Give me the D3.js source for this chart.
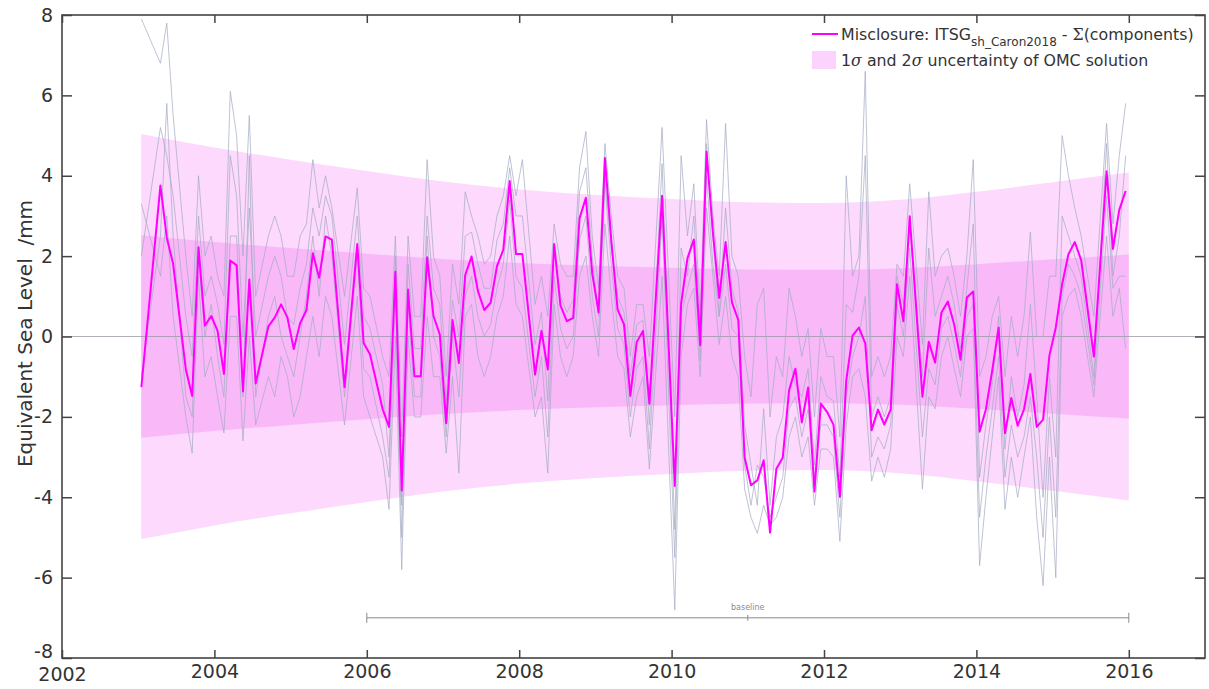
<!DOCTYPE html>
<html>
<head>
<meta charset="utf-8">
<script src="https://cdn.jsdelivr.net/npm/d3@7"></script>
<style>
  html, body { margin: 0; padding: 0; background: #fff; }
  svg { display: block; font-family: "DejaVu Sans", sans-serif; }
</style>
</head>
<body>
<svg id="chart" width="1209" height="689"></svg>
<script>
// ---------------- DATA ----------------
// month index counted from January 2003 (0 = Jan 2003)
const months = [
  0,3,4,5,7,8,9,10,11,12,
  13,14,15,16,17,18,20,21,22,23,
  24,25,26,27,28,29,30,32,34,35,
  36,38,39,40,41,42,43,44,45,46,
  47,48,49,50,51,52,53,54,55,56,
  57,58,59,60,62,63,64,65,66,67,
  68,69,70,71,72,73,74,75,76,77,
  78,79,80,82,84,85,86,87,88,89,
  90,91,92,93,94,95,96,97,98,99,
  100,101,102,103,104,105,106,107,108,109,
  110,111,112,113,114,115,116,117,118,119,
  120,121,123,124,125,126,127,128,129,130,
  131,132,133,134,135,136,137,138,139,140,
  141,142,143,144,145,146,147,148,150,152,
  153,154,155
];
// Misclosure: ITSG_sh_Caron2018 - Σ(components)  [mm]
const misclosure = [
  -1.26,3.76,2.46,1.81,-0.82,-1.48,2.22,0.27,0.51,0.14,
  -0.93,1.89,1.77,-1.37,1.42,-1.17,0.25,0.47,0.80,0.47,
  -0.31,0.33,0.66,2.07,1.46,2.49,2.41,-1.26,2.30,-0.16,
  -0.44,-1.81,-2.25,1.61,-3.83,1.17,-0.99,-0.99,1.97,0.51,
  0.05,-2.16,0.41,-0.66,1.53,1.99,1.13,0.66,0.84,1.75,
  2.16,3.87,2.05,2.05,-0.95,0.14,-0.82,2.30,0.77,0.38,
  0.46,2.94,3.45,1.57,0.60,4.44,2.40,0.67,0.30,-1.48,
  -0.14,0.14,-1.67,3.50,-3.72,0.82,1.95,2.41,-0.22,4.60,
  2.60,0.96,2.35,0.85,0.41,-3.01,-3.70,-3.58,-3.08,-4.88,
  -3.29,-3.02,-1.34,-0.80,-2.14,-1.27,-3.86,-1.67,-1.88,-2.20,
  -3.99,-1.10,0.02,0.22,-0.17,-2.33,-1.82,-2.19,-1.82,1.30,
  0.38,2.99,-1.50,-0.13,-0.65,0.60,0.87,0.30,-0.58,0.97,
  1.12,-2.37,-1.81,-0.84,0.22,-2.41,-1.53,-2.22,-1.81,-0.93,
  -2.25,-2.07,-0.47,0.22,1.30,2.05,2.35,1.90,-0.50,4.11,
  2.18,3.15,3.62
];
// individual ensemble members (grey lines)
const memberA = [
  7.9,6.8,7.8,5.5,2.0,0.5,4.0,2.0,2.5,1.5,
  1.0,6.1,5.0,2.0,5.5,1.0,2.5,3.0,2.5,1.5,
  1.5,2.5,2.8,4.4,3.2,4.0,3.2,1.0,3.7,1.2,
  1.0,-0.5,-1.0,2.5,-2.5,2.5,0.5,0.5,4.4,2.0,
  1.5,-1.0,1.8,0.8,3.6,3.0,2.5,1.8,2.0,3.0,
  3.5,4.5,3.5,4.4,0.8,1.5,0.5,2.8,1.8,1.5,
  1.5,4.2,5.1,2.5,1.2,4.8,3.0,1.5,1.2,-0.5,
  0.8,0.8,-0.5,5.2,-2.0,4.5,2.5,3.8,0.5,5.4,
  3.0,1.5,5.3,2.0,1.5,-0.5,-1.5,0.8,1.2,-2.0,
  -0.5,-1.0,1.2,0.5,-0.5,0.2,-2.0,0.2,-0.5,-0.5,
  -2.5,4.0,1.5,2.0,6.6,-1.0,-0.5,-1.0,-0.5,1.8,
  1.5,3.8,-0.2,3.6,1.5,2.0,2.2,1.5,0.5,2.0,
  4.4,-1.0,-0.5,0.5,1.0,-1.0,0.5,-0.5,0.5,2.6,
  0.0,0.0,1.5,1.5,5.0,4.0,3.2,2.5,0.5,5.3,
  2.8,4.5,5.8
];
const memberB = [
  3.3,1.5,3.0,0.5,-2.0,-2.9,1.5,-1.0,-0.5,-1.5,
  -2.4,0.5,0.5,-2.6,0.0,-2.2,-1.0,-1.5,-0.5,-1.0,
  -2.0,-1.5,-0.5,0.5,-0.5,1.0,0.5,-2.2,1.0,-1.5,
  -2.0,-3.0,-4.3,0.0,-5.8,0.0,-2.0,-2.0,0.5,-1.0,
  -1.0,-2.9,-1.0,-3.4,0.5,0.8,-0.5,-1.0,-0.5,0.5,
  1.0,2.5,0.8,0.5,-2.0,-1.5,-3.4,0.8,-0.5,-1.0,
  -0.5,1.5,2.0,0.5,-0.5,2.8,1.0,-0.5,-0.8,-2.5,
  -1.5,-1.0,-3.3,1.5,-6.8,-0.5,0.8,1.2,-1.0,3.2,
  1.5,-0.2,1.0,-0.5,-1.0,-3.8,-4.5,-4.9,-4.2,-4.7,
  -4.5,-4.0,-2.5,-2.0,-3.0,-2.5,-4.2,-2.8,-2.8,-3.0,
  -5.1,-2.2,-1.0,-0.8,-1.5,-3.6,-3.0,-3.5,-2.8,0.0,
  -0.5,1.5,-3.8,-1.5,-1.8,-0.5,0.0,-0.8,-1.5,0.0,
  0.2,-5.7,-4.0,-2.5,-1.0,-4.3,-3.0,-4.0,-3.0,-2.0,
  -4.5,-6.2,-3.0,-6.0,0.5,1.0,1.2,0.5,-1.5,2.5,
  0.5,1.2,-0.3
];
const memberC = [
  2.0,5.2,4.5,3.5,0.5,-0.5,3.0,1.0,1.5,0.8,
  -0.2,4.5,3.5,0.0,3.2,0.0,1.5,2.0,1.5,0.5,
  0.3,1.2,1.8,3.2,2.5,3.5,3.0,-0.2,3.0,0.5,
  0.2,-1.2,-3.0,2.0,-4.2,1.8,-0.3,-0.3,3.0,1.2,
  0.8,-1.6,0.9,0.0,2.5,2.6,1.8,1.2,1.2,2.4,
  2.8,4.2,3.0,3.0,-0.2,0.6,-1.6,2.2,1.0,0.6,
  0.9,3.6,4.2,2.0,0.5,4.0,2.2,1.0,0.6,-1.0,
  0.3,0.4,-2.2,4.3,-4.8,2.2,1.5,3.0,0.2,4.8,
  2.5,0.5,3.2,1.2,0.6,-2.2,-3.2,-4.2,-1.8,-4.2,
  -2.5,-2.0,-0.5,-1.2,-1.5,-0.8,-3.2,-1.0,-1.5,-1.6,
  -3.5,0.8,0.6,1.5,4.5,-2.0,-1.5,-2.0,-1.5,1.5,
  0.8,2.8,-1.0,2.2,0.5,1.0,1.5,0.8,-0.3,1.2,
  2.8,-3.5,-2.2,-1.2,0.5,-2.8,-1.0,-2.0,-1.2,0.8,
  -1.5,-4.0,-1.0,-3.0,3.0,2.5,2.0,1.5,-1.0,4.8,
  1.5,2.5,4.5
];
const memberD = [
  -1.0,2.5,5.8,2.5,-1.5,-2.0,2.0,0.0,0.8,-0.5,
  -1.5,2.5,2.5,-1.5,4.5,-1.5,0.5,1.0,0.0,-0.5,
  -1.0,0.0,1.0,2.5,1.0,3.0,2.0,-1.5,2.0,-0.8,
  -1.0,-2.5,-3.5,1.0,-5.0,0.8,-1.5,-1.5,2.5,0.0,
  -0.5,-2.5,0.0,-1.5,1.0,1.5,0.5,0.0,0.3,1.2,
  1.8,3.4,1.5,1.2,-1.5,-0.5,-2.5,1.5,0.2,-0.3,
  0.0,2.4,3.0,1.0,0.0,3.8,1.8,0.2,-0.2,-2.0,
  -0.8,-0.5,-2.8,3.0,-5.5,0.5,1.2,1.8,-0.6,4.0,
  1.8,0.5,1.8,0.2,0.0,-3.2,-4.2,-3.2,-3.5,-4.5,
  -4.0,-3.5,-1.8,-1.5,-2.5,-1.8,-3.5,-2.2,-2.2,-2.5,
  -4.5,-1.5,-0.5,0.0,1.0,-3.0,-2.5,-2.8,-2.2,0.8,
  0.0,2.2,-2.5,-0.8,-1.2,0.2,0.5,-0.2,-1.0,0.5,
  0.8,-4.5,-3.0,-1.8,-0.5,-3.5,-2.2,-3.0,-2.5,-1.5,
  -3.0,-5.0,-2.0,-4.5,1.0,1.8,1.5,1.0,-1.2,3.5,
  1.2,1.5,1.5
];
// 1-sigma uncertainty of the OMC solution [mm]
const sigmaYears  = [2003.04, 2004, 2005, 2006, 2007, 2008, 2009, 2010, 2011, 2012, 2013, 2014, 2015, 2016];
const sigmaValues = [2.52, 2.35, 2.20, 2.06, 1.93, 1.83, 1.76, 1.71, 1.67, 1.66, 1.70, 1.80, 1.92, 2.04];
// baseline period
const baselineYears = [2006, 2011, 2016];
const baselineLevel = -7;
// ticks
const xTicks = [2002, 2004, 2006, 2008, 2010, 2012, 2014, 2016];
const yTicks = [-8, -6, -4, -2, 0, 2, 4, 6, 8];

// ---------------- CHART ----------------
const svg = d3.select("#chart");
const L = 62, R = 1205, T = 15, B = 658;
const x = d3.scaleLinear().domain([2002, 2017]).range([L, R]);
const y = d3.scaleLinear().domain([-8, 8]).range([B, T]);
const monthToYear = m => 2003 + (m + 0.5) / 12;

const plot = svg.append("g");
plot.append("defs").append("clipPath").attr("id", "clip")
  .append("rect").attr("x", L).attr("y", T).attr("width", R - L).attr("height", B - T);

const bandData = sigmaYears.map((yr, i) => ({ yr, s: sigmaValues[i] }));
function band(k) {
  return d3.area().curve(d3.curveMonotoneX)
    .x(d => x(d.yr)).y0(d => y(-k * d.s)).y1(d => y(k * d.s));
}
const g = plot.append("g").attr("clip-path", "url(#clip)");
g.append("path").datum(bandData).attr("d", band(2)).attr("fill", "#fdd9fd");
g.append("path").datum(bandData).attr("d", band(1)).attr("fill", "#f9b9f9");

// zero line
g.append("line").attr("x1", L).attr("x2", R).attr("y1", y(0)).attr("y2", y(0))
  .attr("stroke", "#9a9aa6").attr("stroke-width", 0.8);

const lineGen = d3.line().x(d => x(d.yr)).y(d => y(d.v));
const members = [memberA, memberB, memberC, memberD];
members.forEach(arr => {
  const data = months.map((m, i) => ({ yr: monthToYear(m), v: arr[i] }));
  g.append("path").datum(data).attr("d", lineGen)
    .attr("fill", "none").attr("stroke", "#a4abc4").attr("stroke-opacity", 0.8)
    .attr("stroke-width", 0.9);
});

const misData = months.map((m, i) => ({ yr: monthToYear(m), v: misclosure[i] }));
g.append("path").datum(misData).attr("d", lineGen)
  .attr("fill", "none").attr("stroke", "#ff00ff").attr("stroke-width", 2)
  .attr("stroke-linejoin", "round");

// baseline bracket
const bl = plot.append("g").attr("stroke", "#8a8a8a").attr("stroke-width", 1);
bl.append("line").attr("x1", x(baselineYears[0])).attr("x2", x(baselineYears[2]))
  .attr("y1", y(baselineLevel)).attr("y2", y(baselineLevel));
baselineYears.forEach((yr, i) => {
  const h = i === 1 ? 3 : 5;
  bl.append("line").attr("x1", x(yr)).attr("x2", x(yr))
    .attr("y1", y(baselineLevel) - h).attr("y2", y(baselineLevel) + h);
});
plot.append("text").attr("x", x(baselineYears[1])).attr("y", y(baselineLevel) - 8)
  .attr("text-anchor", "middle").attr("font-size", 8).attr("fill", "#8a8a8a").text("baseline");

// axes
const fmt = d => String(d);
const axB = svg.append("g").attr("transform", `translate(0,${B})`)
  .call(d3.axisBottom(x).tickValues(xTicks).tickSize(-8).tickPadding(7).tickFormat(fmt));
const axT = svg.append("g").attr("transform", `translate(0,${T})`)
  .call(d3.axisTop(x).tickValues(xTicks).tickSize(-8).tickFormat(""));
const axL = svg.append("g").attr("transform", `translate(${L},0)`)
  .call(d3.axisLeft(y).tickValues(yTicks).tickSize(-10).tickPadding(9).tickFormat(fmt));
const axR = svg.append("g").attr("transform", `translate(${R},0)`)
  .call(d3.axisRight(y).tickValues(yTicks).tickSize(-10).tickFormat(""));
[axB, axT, axL, axR].forEach(a => {
  a.select(".domain").remove();
  a.selectAll(".tick line").attr("stroke", "#444").attr("stroke-width", 1.5);
  a.selectAll(".tick text").attr("fill", "#333").attr("font-size", 19)
    .attr("font-family", "DejaVu Sans, sans-serif");
});
// keep "-8" and "2002" corner labels apart (both sit at the corner in the reference)
axL.selectAll(".tick text").filter(d => d === -8).attr("dy", "-0.05em");
axB.selectAll(".tick text").filter(d => d === 2002).attr("dy", "0.85em");
svg.append("rect").attr("x", L).attr("y", T).attr("width", R - L).attr("height", B - T)
  .attr("fill", "none").attr("stroke", "#444").attr("stroke-width", 1.6);

// y label
svg.append("text").attr("transform", `translate(32,${(T + B) / 2 - 3}) rotate(-90)`)
  .attr("text-anchor", "middle").attr("font-size", 20).attr("fill", "#333")
  .style("white-space", "pre")
  .text("Equivalent Sea Level  /mm");

// legend
const lg = svg.append("g");
lg.append("line").attr("x1", 812).attr("x2", 838).attr("y1", 34).attr("y2", 34)
  .attr("stroke", "#ff00ff").attr("stroke-width", 2);
const t1 = lg.append("text").attr("x", 841).attr("y", 40).attr("font-size", 15.8).attr("fill", "#333")
  .style("white-space", "pre");
t1.append("tspan").text("Misclosure: ITSG");
t1.append("tspan").attr("font-size", 12).attr("dy", 6).text("sh_Caron2018");
t1.append("tspan").attr("dy", -6).text(" - ");
t1.append("tspan").attr("font-family", "DejaVu Serif, serif").text("Σ");
t1.append("tspan").text("(components)");
lg.append("rect").attr("x", 812).attr("y", 51).attr("width", 24).attr("height", 18).attr("fill", "#fcd3fc");
const t2 = lg.append("text").attr("x", 841).attr("y", 66).attr("font-size", 15.8).attr("fill", "#333");
t2.append("tspan").text("1");
t2.append("tspan").attr("font-family", "DejaVu Serif, serif").attr("font-style", "italic").text("σ");
t2.append("tspan").text(" and 2");
t2.append("tspan").attr("font-family", "DejaVu Serif, serif").attr("font-style", "italic").text("σ");
t2.append("tspan").text(" uncertainty of OMC solution");
</script>
</body>
</html>
